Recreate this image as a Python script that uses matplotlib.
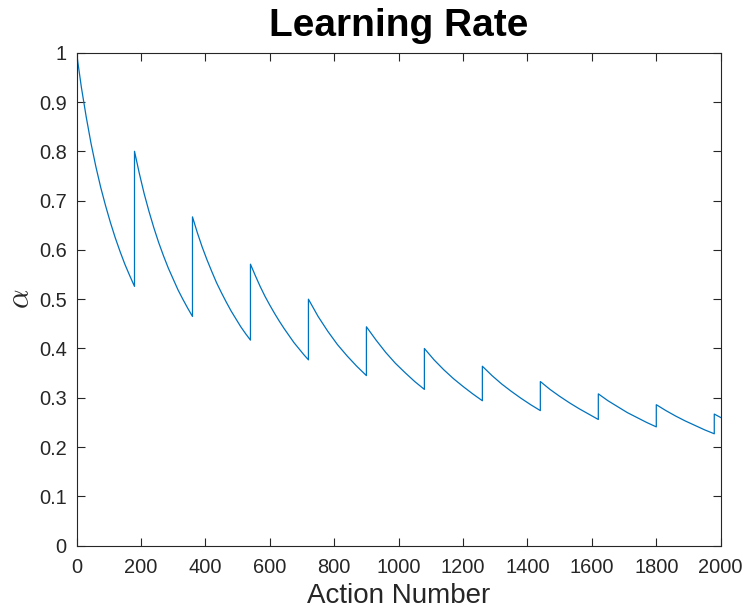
import matplotlib
matplotlib.use("Agg")
import matplotlib.pyplot as plt

plt.rcParams["font.family"] = ["Liberation Sans", "DejaVu Sans"]
plt.rcParams["mathtext.fontset"] = "cm"

# Learning rate resets at these action numbers
reset_actions = [0, 180, 360, 540, 720, 900, 1080, 1260, 1440, 1620, 1800, 1980]

# Offsets (in actions) within a reset period where alpha was sampled
fine_offsets = [0, 15, 30, 45, 60, 75, 90, 105, 120, 135, 150, 165, 180]
coarse_offsets = [0, 30, 60, 90, 120, 150, 180]
last_offsets = [0, 20]

# Alpha values along each period
alpha_periods = [
    [1.000, 0.930, 0.870, 0.816, 0.769, 0.727, 0.690, 0.656, 0.625, 0.597, 0.571, 0.548, 0.526],
    [0.800, 0.755, 0.714, 0.678, 0.645, 0.615, 0.588, 0.563, 0.541, 0.519, 0.500, 0.482, 0.465],
    [0.667, 0.635, 0.606, 0.580, 0.556, 0.533, 0.513, 0.494, 0.476, 0.460, 0.444, 0.430, 0.417],
    [0.571, 0.548, 0.526, 0.506, 0.488, 0.471, 0.455, 0.440, 0.426, 0.412, 0.400, 0.388, 0.377],
    [0.500, 0.465, 0.435, 0.408, 0.385, 0.364, 0.345],
    [0.444, 0.417, 0.392, 0.370, 0.351, 0.333, 0.317],
    [0.400, 0.377, 0.357, 0.339, 0.323, 0.308, 0.294],
    [0.364, 0.345, 0.328, 0.313, 0.299, 0.286, 0.274],
    [0.333, 0.317, 0.303, 0.290, 0.278, 0.267, 0.256],
    [0.308, 0.294, 0.282, 0.270, 0.260, 0.250, 0.241],
    [0.286, 0.274, 0.263, 0.253, 0.244, 0.235, 0.227],
    [0.267, 0.260],
]

x_ticks = [0, 200, 400, 600, 800, 1000, 1200, 1400, 1600, 1800, 2000]
y_ticks = [0, 0.1, 0.2, 0.3, 0.4, 0.5, 0.6, 0.7, 0.8, 0.9, 1]
y_tick_labels = ["0", "0.1", "0.2", "0.3", "0.4", "0.5", "0.6", "0.7", "0.8", "0.9", "1"]

offsets_by_length = {len(o): o for o in (fine_offsets, coarse_offsets, last_offsets)}

xs, ys = [], []
for start, vals in zip(reset_actions, alpha_periods):
    offs = offsets_by_length[len(vals)]
    xs.extend(start + o for o in offs)
    ys.extend(vals)

axis_color = "#262626"

fig = plt.figure(figsize=(7.43, 6.15), dpi=100)
ax = fig.add_axes([0.103, 0.1127, 0.867, 0.8016])
ax.plot(xs, ys, color="#0072BD", linewidth=0.9)

ax.set_xlim(0, 2000)
ax.set_ylim(0, 1)
ax.set_xticks(x_ticks)
ax.set_yticks(y_ticks)
ax.set_yticklabels(y_tick_labels)

for side in ax.spines.values():
    side.set_color(axis_color)
    side.set_linewidth(0.8)
ax.tick_params(direction="in", length=6, width=0.8, colors=axis_color,
               labelsize=14.4, top=True, right=True)
ax.tick_params(axis="y", pad=7)
ax.tick_params(axis="x", pad=9)

ax.set_title("Learning Rate", fontsize=28, fontweight="bold", pad=12)
ax.set_xlabel("Action Number", fontsize=20, color=axis_color, labelpad=4)
ax.set_ylabel(r"$\alpha$", fontsize=22, color=axis_color, labelpad=2)

fig.savefig("out.png", dpi=100)
